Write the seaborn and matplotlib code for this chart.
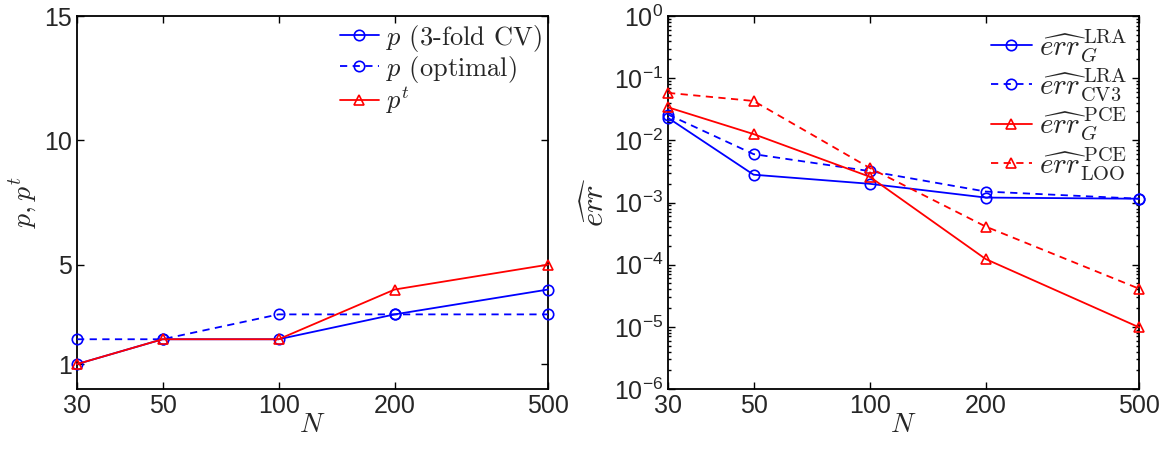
import matplotlib
matplotlib.use("Agg")
import matplotlib.pyplot as plt
import seaborn as sns
import numpy as np
import pandas as pd
from matplotlib.ticker import FixedLocator, NullLocator, LogLocator, NullFormatter, FixedFormatter

N = [30, 50, 100, 200, 500]

# left panel
p_cv3 = [1, 2, 2, 3, 4]
p_opt = [2, 2, 3, 3, 3]
p_t = [1, 2, 2, 4, 5]

# right panel
err_lra_G = [2.3e-2, 2.8e-3, 2.0e-3, 1.2e-3, 1.15e-3]
err_lra_cv3 = [2.6e-2, 6.0e-3, 3.2e-3, 1.5e-3, 1.15e-3]
err_pce_G = [3.4e-2, 1.26e-2, 2.6e-3, 1.23e-4, 9.8e-6]
err_pce_loo = [5.8e-2, 4.3e-2, 3.6e-3, 4.1e-4, 4.1e-5]

left_labels = [r'$p$ (3-fold CV)', r'$p$ (optimal)', r'$p^t$']
right_labels = [r'$\widehat{err}^{\,\mathrm{LRA}}_{G}$',
                r'$\widehat{err}^{\,\mathrm{LRA}}_{\mathrm{CV3}}$',
                r'$\widehat{err}^{\,\mathrm{PCE}}_{G}$',
                r'$\widehat{err}^{\,\mathrm{PCE}}_{\mathrm{LOO}}$']

sns.set_style("ticks")
plt.rcParams['font.family'] = ['Liberation Sans', 'DejaVu Sans']
plt.rcParams['mathtext.fontset'] = 'cm'
plt.rcParams['xtick.direction'] = 'in'
plt.rcParams['ytick.direction'] = 'in'
plt.rcParams['axes.linewidth'] = 1.3
plt.rcParams['axes.edgecolor'] = 'black'

fig = plt.figure(figsize=(11.72, 4.5), dpi=100)
axL = fig.add_axes([0.0657, 0.1356, 0.4019, 0.8288])
axR = fig.add_axes([0.570, 0.1356, 0.402, 0.8288])

blue = '#0000ff'
red = '#ff0000'
styles = [(blue, '-', 'o'), (blue, '--', 'o'), (red, '-', '^'), (red, '--', '^')]

def draw(ax, series, labels, sty):
    for vals, lab, (c, ls, m) in zip(series, labels, sty):
        df = pd.DataFrame({'N': N, 'v': vals})
        sns.lineplot(data=df, x='N', y='v', ax=ax, color=c, linestyle=ls,
                     marker=m, markersize=7.5, markerfacecolor='none',
                     markeredgecolor=c, markeredgewidth=1.2, linewidth=1.3,
                     label=lab, clip_on=False)
        ax.lines[-1].set_linestyle(ls)
        if ls == '--':
            ax.lines[-1].set_dashes((4, 3))

draw(axL, [p_cv3, p_opt, p_t], left_labels, [styles[0], styles[1], styles[2]])
draw(axR, [err_lra_G, err_lra_cv3, err_pce_G, err_pce_loo], right_labels, styles)

for ax in (axL, axR):
    ax.set_xscale('log')
    ax.set_xlim(30, 500)
    ax.xaxis.set_major_locator(FixedLocator(N))
    ax.xaxis.set_major_formatter(FixedFormatter([str(n) for n in N]))
    ax.xaxis.set_minor_locator(NullLocator())
    ax.tick_params(which='both', top=True, right=True, labelsize=18, width=1.0, color='black')
    ax.tick_params(which='major', length=5)
    ax.tick_params(which='minor', length=2.5)
    ax.set_xlabel(r'$N$', fontsize=20, labelpad=-4)
    for s in ax.spines.values():
        s.set_visible(True)
        s.set_color('black')
        s.set_zorder(0.5)

axL.set_ylim(0, 15)
axL.yaxis.set_major_locator(FixedLocator([1, 5, 10, 15]))
axL.set_ylabel(r'$p,p^t$', fontsize=20, labelpad=4)

axR.set_yscale('log')
axR.set_ylim(1e-6, 1)
axR.yaxis.set_major_locator(LogLocator(base=10, numticks=10))
axR.yaxis.set_minor_locator(LogLocator(base=10, subs=np.arange(2, 10), numticks=20))
axR.yaxis.set_minor_formatter(NullFormatter())
axR.set_ylabel(r'$\widehat{err}$', fontsize=22, labelpad=2)

legL = axL.legend(loc='upper right', frameon=False, handlelength=1.5,
                  handletextpad=0.25, labelspacing=0.0, borderaxespad=0.05,
                  borderpad=0.2, markerscale=1.0,
                  prop={'family': 'cmr10', 'size': 19})
legR = axR.legend(loc='upper right', frameon=False, fontsize=21, handlelength=1.4,
                  handletextpad=0.25, labelspacing=0.08, borderaxespad=0.4,
                  borderpad=0.0, markerscale=1.0)

fig.savefig('out.png', dpi=100)
